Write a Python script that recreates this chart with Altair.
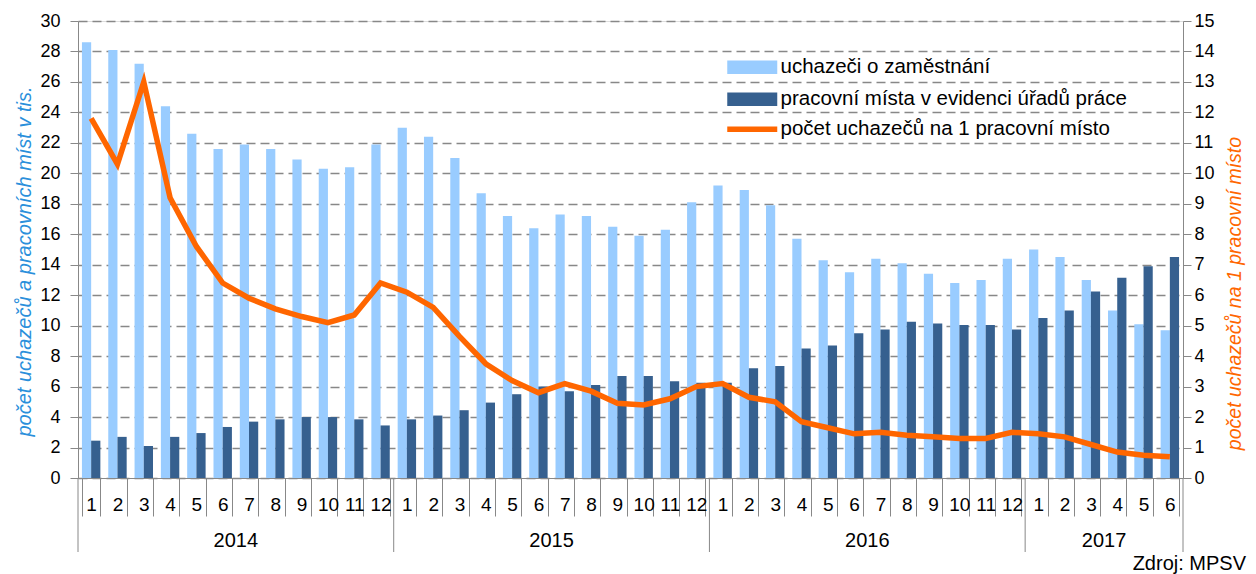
import altair as alt
import pandas as pd

FONT = "Liberation Sans"

years = [2014] * 12 + [2015] * 12 + [2016] * 12 + [2017] * 6
months = list(range(1, 13)) * 3 + list(range(1, 7))

# uchazeči o zaměstnání (tis.)
light = [28.6, 28.1, 27.2, 24.4, 22.6, 21.6, 21.9, 21.6, 20.9, 20.3, 20.4, 21.9,
         23.0, 22.4, 21.0, 18.7, 17.2, 16.4, 17.3, 17.2, 16.5, 15.9, 16.3, 18.1,
         19.2, 18.9, 17.9, 15.7, 14.3, 13.5, 14.4, 14.1, 13.4, 12.8, 13.0, 14.4,
         15.0, 14.5, 13.0, 11.0, 10.1, 9.7]
# pracovní místa v evidenci úřadů práce (tis.)
dark = [2.45, 2.7, 2.1, 2.7, 2.95, 3.35, 3.7, 3.85, 4.0, 4.0, 3.85, 3.45,
        3.85, 4.1, 4.45, 4.95, 5.5, 6.0, 5.7, 6.1, 6.7, 6.7, 6.35, 6.25,
        6.25, 7.2, 7.35, 8.5, 8.7, 9.5, 9.75, 10.25, 10.15, 10.05, 10.05, 9.75,
        10.5, 11.0, 12.25, 13.15, 13.9, 14.5]
# počet uchazečů na 1 pracovní místo
ratio = [11.8, 10.3, 13.0, 9.2, 7.6, 6.4, 5.9, 5.55, 5.3, 5.1, 5.35, 6.4,
         6.1, 5.6, 4.65, 3.75, 3.2, 2.8, 3.1, 2.85, 2.45, 2.4, 2.6, 3.0,
         3.1, 2.65, 2.5, 1.85, 1.65, 1.45, 1.5, 1.4, 1.35, 1.3, 1.3, 1.5,
         1.45, 1.35, 1.1, 0.85, 0.75, 0.7]

year_labels = ["2014", "2015", "2016", "2017"]
year_centers = [6, 18, 30, 39]
year_bounds = [0, 12, 24, 36, 42]

S1 = "uchazeči o zaměstnání"
S2 = "pracovní místa v evidenci úřadů práce"
S3 = "počet uchazečů na 1 pracovní místo"
LEFT_TITLE = "počet uchazečů a pracovních míst v tis."
SOURCE = "Zdroj: MPSV"

keys = [f"{y}-{m}" for y, m in zip(years, months)]
bars_df = pd.DataFrame({"key": keys * 2, "series": [S1] * len(keys) + [S2] * len(keys),
                        "value": light + dark})
line_df = pd.DataFrame({"key": keys, "series": [S3] * len(keys), "value": ratio})
yb_df = pd.DataFrame({"b": year_bounds})
yt_df = pd.DataFrame({"c": year_centers, "t": year_labels})
src_df = pd.DataFrame({"t": [SOURCE]})

GRAY = "#888888"

bars = alt.Chart(bars_df).mark_bar().encode(
    x=alt.X("key:O", sort=keys,
            scale=alt.Scale(domain=keys, paddingInner=0.3, paddingOuter=0.15),
            axis=alt.Axis(title=None, labelExpr="split(datum.value,'-')[1]", labelAngle=0,
                          tickBand="extent", tickSize=38, labelPadding=-21,
                          labelFontSize=19, labelFont=FONT, labelColor="#000",
                          domainColor=GRAY, tickColor=GRAY, labelOverlap=False,
                          labelBound=False)),
    xOffset=alt.XOffset("series:N", sort=[S1, S2],
                        scale=alt.Scale(domain=[S1, S2], paddingInner=0, paddingOuter=0)),
    y=alt.Y("value:Q", scale=alt.Scale(domain=[0, 30], nice=False),
            axis=alt.Axis(values=list(range(0, 31, 2)), title=LEFT_TITLE,
                          titleFont=FONT, titleFontSize=20, titleFontStyle="italic",
                          titleFontWeight="normal", titleColor="#2A8FDB", titlePadding=5,
                          titleY=240,
                          labelFont=FONT, labelFontSize=18, labelColor="#000",
                          labelPadding=10, tickSize=8, tickColor=GRAY, domainColor=GRAY,
                          grid=True, gridColor=GRAY, gridDash=[9, 5], gridWidth=1.3)),
    color=alt.Color("series:N",
                    scale=alt.Scale(domain=[S1, S2], range=["#99CCFF", "#36608F"]),
                    legend=alt.Legend(title=None, orient="none", legendX=664, legendY=36,
                                      symbolType="M-5,-1.34H5V1.34H-5Z", symbolSize=100,
                                      symbolStrokeWidth=0, labelFont=FONT, labelFontSize=20.5,
                                      labelColor="#000", labelOffset=18, rowPadding=11,
                                      labelLimit=0, padding=0)),
)

line = alt.Chart(line_df).mark_line(strokeWidth=5.5).encode(
    x=alt.X("key:O", sort=keys,
            scale=alt.Scale(type="band", domain=keys, paddingInner=0.3, paddingOuter=0.15),
            axis=None),
    y=alt.Y("value:Q", scale=alt.Scale(domain=[0, 15], nice=False),
            axis=alt.Axis(orient="right", values=list(range(0, 16)), title=S3,
                          titleFont=FONT, titleFontSize=19.5, titleFontStyle="italic",
                          titleFontWeight="normal", titleColor="#FF6600", titleAngle=270,
                          titlePadding=30, titleY=272,
                          labelFont=FONT, labelFontSize=18, labelColor="#000",
                          labelPadding=3, tickSize=8, tickColor=GRAY, domainColor=GRAY,
                          grid=False)),
    stroke=alt.Stroke("series:N", scale=alt.Scale(domain=[S3], range=["#FF6600"]),
                      legend=alt.Legend(title=None, orient="none", legendX=664, legendY=98,
                                        symbolType="M-5,0H5", symbolSize=100,
                                        symbolStrokeWidth=5.5, labelFont=FONT,
                                        labelFontSize=20.5, labelColor="#000",
                                        labelOffset=18, labelLimit=0, padding=0)),
)

year_rules = alt.Chart(yb_df).mark_rule(color=GRAY, strokeWidth=1).encode(
    x=alt.X("b:Q", scale=alt.Scale(domain=[0, 42], nice=False, zero=False), axis=None),
    y=alt.value(457),
    y2=alt.value(531),
)

year_text = alt.Chart(yt_df).mark_text(font=FONT, fontSize=20, baseline="middle",
                                       color="#000").encode(
    x=alt.X("c:Q", scale=alt.Scale(domain=[0, 42], nice=False, zero=False), axis=None),
    y=alt.value(519.5),
    text="t:N",
)

source = alt.Chart(src_df).mark_text(font=FONT, fontSize=20, align="right",
                                     baseline="alphabetic", color="#000").encode(
    x=alt.value(1168),
    y=alt.value(549),
    text="t:N",
)

chart = alt.layer(bars, line, year_rules, year_text, source).resolve_scale(
    x="independent", y="independent", color="independent"
).properties(
    width=1105, height=457,
    autosize=alt.AutoSizeParams(type="none"),
    padding={"left": 70, "top": 13, "right": 65, "bottom": 96},
).configure_view(stroke=None).configure(font=FONT)

chart.save("out.html", embed_options={"renderer": "svg", "actions": False})
